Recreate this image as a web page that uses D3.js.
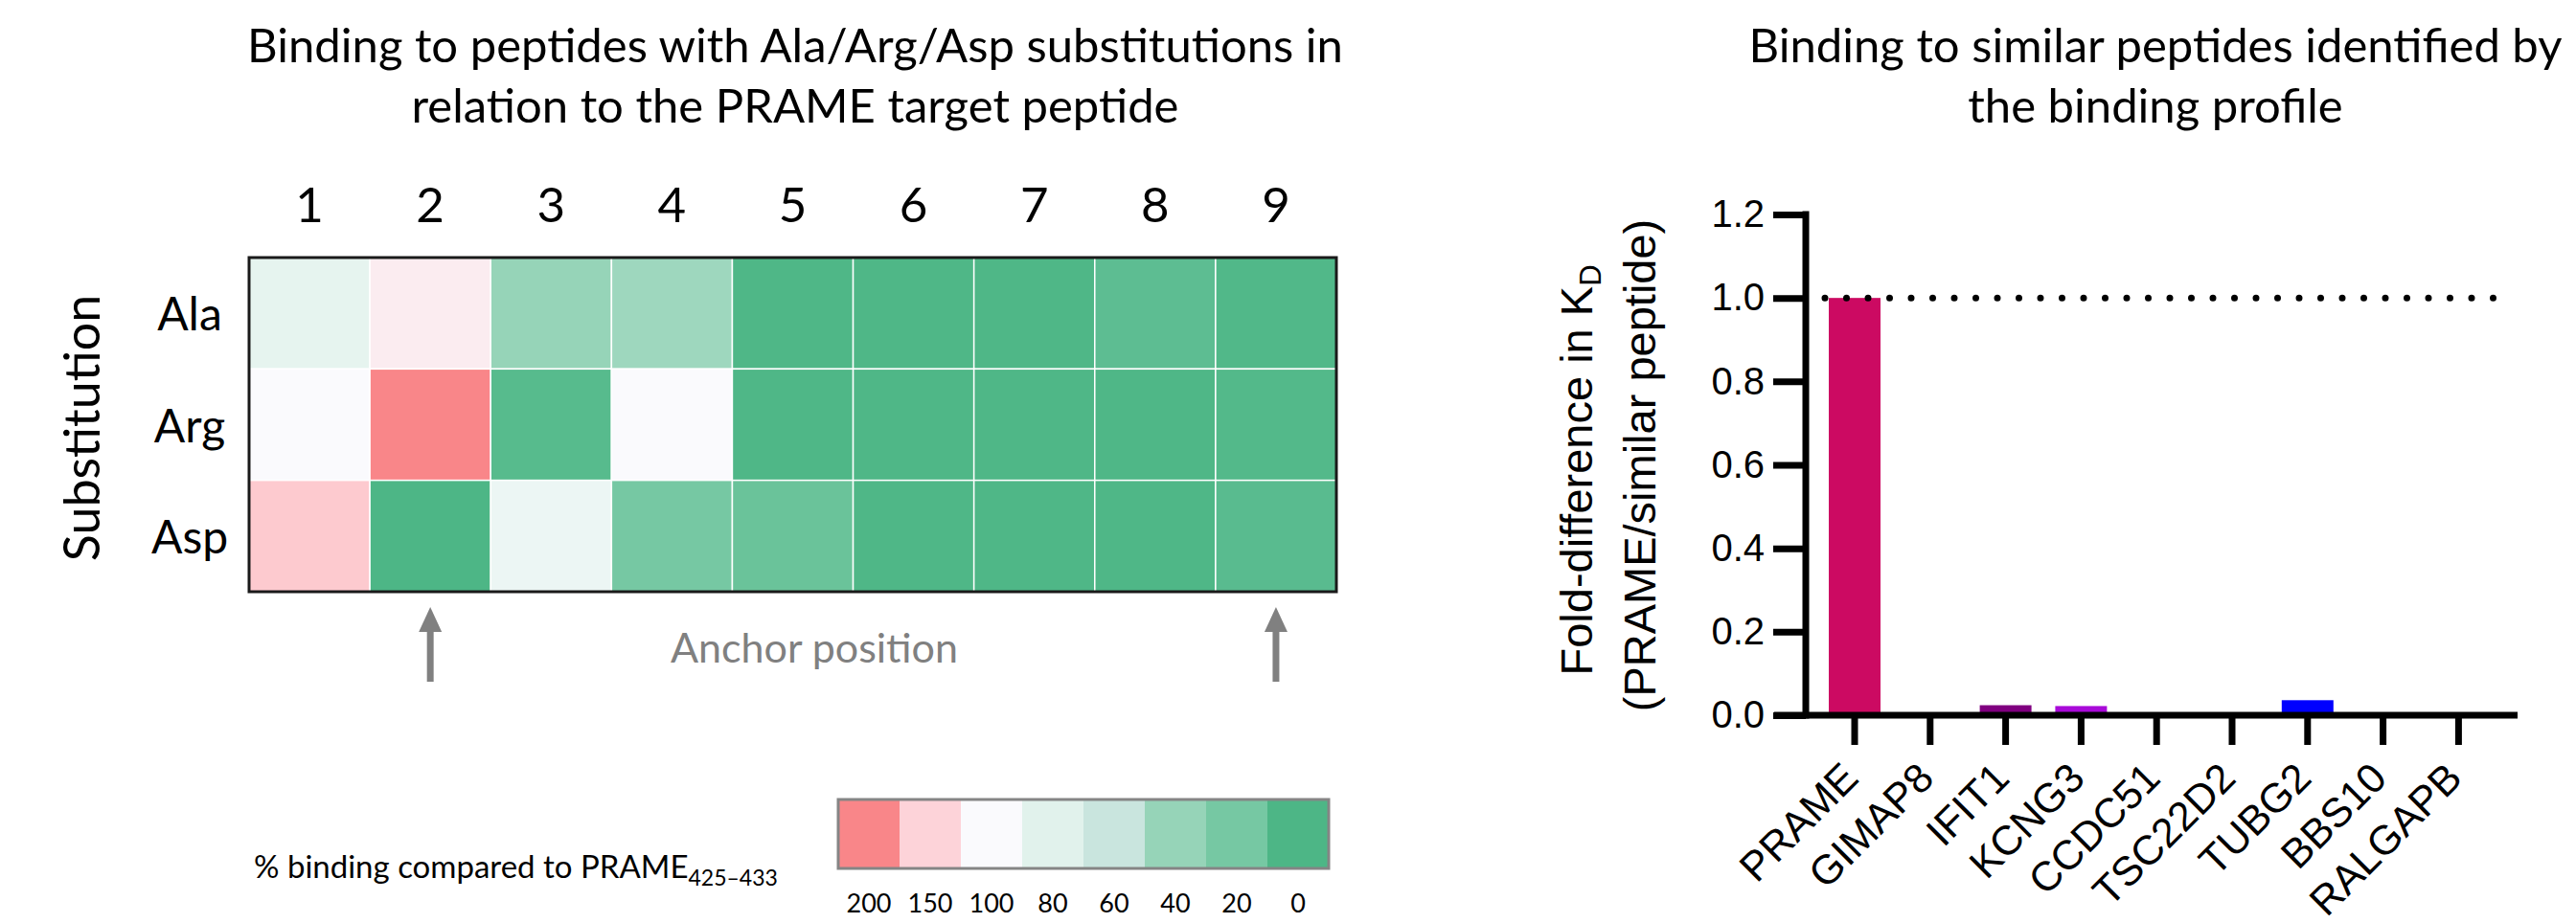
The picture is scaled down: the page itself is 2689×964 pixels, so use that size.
<!DOCTYPE html>
<html>
<head>
<meta charset="utf-8">
<script src="https://cdn.jsdelivr.net/npm/d3@7/dist/d3.min.js"></script>
<style>
  html, body { margin: 0; padding: 0; background: #fff; }
  svg { display: block; }
</style>
</head>
<body>
<svg id="fig" width="2689" height="964"></svg>
<script>
// ---- Heatmap data: % binding relative to the PRAME 425–433 peptide ----
const positions = [1, 2, 3, 4, 5, 6, 7, 8, 9];
const substitutions = ["Ala", "Arg", "Asp"];
const bindingAla = [84, 118, 40, 43, 1, 1, 1, 8, 2];
const bindingArg = [100, 200, 5, 100, 1, 1, 1, 1, 3];
const bindingAsp = [156, 0, 89, 20, 14, 1, 1, 1, 6];
const anchorPositions = [2, 9];

const legendStops = [200, 150, 100, 80, 60, 40, 20, 0];
const colorStops = [0, 20, 40, 60, 80, 100, 150, 200];
const colorValues = ["#4DB686", "#76C8A3", "#96D4B8", "#C9E5DE", "#E1F2EC", "#FAFAFD", "#FDD3D9", "#F98689"];

// ---- Bar chart data: fold-difference in KD ----
const peptides = ["PRAME", "GIMAP8", "IFIT1", "KCNG3", "CCDC51", "TSC22D2", "TUBG2", "BBS10", "RALGAPB"];
const foldDiff = [1.0, 0, 0.024, 0.022, 0, 0, 0.036, 0, 0];
const barColors = ["#CC0A62", "#7F7F7F", "#800080", "#A80AD8", "#7F7F7F", "#7F7F7F", "#0000FF", "#7F7F7F", "#7F7F7F"];
const yTicks = [0, 0.2, 0.4, 0.6, 0.8, 1.0, 1.2];
const referenceLevel = 1.0;

const svg = d3.select("#fig");
const calibriLike = "Lato, 'Noto Sans', sans-serif";
const arialLike = "'Liberation Sans', Arial, sans-serif";

// ================= Left panel: substitution heatmap =================
const left = svg.append("g");

const titleL = left.append("text")
  .attr("font-family", calibriLike).attr("font-size", 49)
  .attr("text-anchor", "middle").attr("fill", "#000");
titleL.append("tspan").attr("x", 830).attr("y", 65)
  .text("Binding to peptides with Ala/Arg/Asp substitutions in");
titleL.append("tspan").attr("x", 830).attr("y", 128)
  .text("relation to the PRAME target peptide");

const x = d3.scaleBand().domain(positions).range([260, 1395]);
const y = d3.scaleBand().domain(substitutions).range([269, 618]);
const color = d3.scaleLinear().domain(colorStops).range(colorValues).interpolate(d3.interpolateRgb);

const rows = [bindingAla, bindingArg, bindingAsp];
const cells = [];
substitutions.forEach((s, i) => positions.forEach((p, j) => cells.push({ s, p, v: rows[i][j] })));

left.append("g").selectAll("rect").data(cells).join("rect")
  .attr("x", d => x(d.p)).attr("y", d => y(d.s))
  .attr("width", x.bandwidth()).attr("height", y.bandwidth())
  .attr("fill", d => color(d.v))
  .attr("stroke", "#fff").attr("stroke-width", 1.5);

left.append("rect")
  .attr("x", x.range()[0]).attr("y", y.range()[0])
  .attr("width", x.range()[1] - x.range()[0]).attr("height", y.range()[1] - y.range()[0])
  .attr("fill", "none").attr("stroke", "#1a1a1a").attr("stroke-width", 3);

// column numbers
left.append("g").selectAll("text").data(positions).join("text")
  .attr("x", d => x(d) + x.bandwidth() / 2).attr("y", 232)
  .attr("text-anchor", "middle")
  .attr("font-family", calibriLike).attr("font-size", 51)
  .text(d => d);

// row labels
left.append("g").selectAll("text").data(substitutions).join("text")
  .attr("x", 198).attr("y", d => y(d) + y.bandwidth() / 2 + 18)
  .attr("text-anchor", "middle")
  .attr("font-family", calibriLike).attr("font-size", 48)
  .text(d => d);

left.append("text")
  .attr("transform", `translate(104, 447) rotate(-90)`)
  .attr("text-anchor", "middle")
  .attr("font-family", calibriLike).attr("font-size", 52)
  .text("Substitution");

// anchor arrows
const arrows = left.append("g").attr("fill", "#808080").attr("stroke", "#808080");
anchorPositions.forEach(p => {
  const cx = x(p) + x.bandwidth() / 2;
  arrows.append("line").attr("x1", cx).attr("x2", cx).attr("y1", 655).attr("y2", 712)
    .attr("stroke-width", 7);
  arrows.append("path").attr("stroke", "none")
    .attr("d", `M${cx},634 L${cx + 12},660 L${cx - 12},660 Z`);
});
left.append("text")
  .attr("x", 850).attr("y", 692).attr("text-anchor", "middle")
  .attr("font-family", calibriLike).attr("font-size", 43).attr("fill", "#808080")
  .text("Anchor position");

// legend
const legendX = d3.scaleBand().domain(legendStops).range([875, 1387]);
const legend = left.append("g");
legend.selectAll("rect").data(legendStops).join("rect")
  .attr("x", d => legendX(d)).attr("y", 835)
  .attr("width", legendX.bandwidth()).attr("height", 72)
  .attr("fill", d => color(d));
legend.append("rect")
  .attr("x", 875).attr("y", 835).attr("width", 512).attr("height", 72)
  .attr("fill", "none").attr("stroke", "#858585").attr("stroke-width", 3);
legend.selectAll("text.tick").data(legendStops).join("text")
  .attr("class", "tick")
  .attr("x", d => legendX(d) + legendX.bandwidth() / 2).attr("y", 953)
  .attr("text-anchor", "middle")
  .attr("font-family", calibriLike).attr("font-size", 27)
  .text(d => d);

const legendTitle = legend.append("text")
  .attr("x", 265).attr("y", 917)
  .attr("font-family", calibriLike).attr("font-size", 33);
legendTitle.append("tspan").text("% binding compared to PRAME");
legendTitle.append("tspan").attr("font-size", 23).attr("dy", 8).text("425–433");

// ================= Right panel: fold-difference bar chart =================
const right = svg.append("g");

const titleR = right.append("text")
  .attr("font-family", calibriLike).attr("font-size", 49)
  .attr("text-anchor", "middle").attr("fill", "#000");
titleR.append("tspan").attr("x", 2250).attr("y", 65)
  .text("Binding to similar peptides identified by");
titleR.append("tspan").attr("x", 2250).attr("y", 128)
  .text("the binding profile");

const xb = d3.scaleBand().domain(peptides).range([1896.6, 2605.8])
  .paddingInner(0.315).paddingOuter(0.1575);
const yb = d3.scaleLinear().domain([0, 1.2]).range([747, 224]);
const axisX = 1885;

const bars = peptides.map((p, i) => ({ p, v: foldDiff[i], c: barColors[i] }));
right.append("g").selectAll("rect").data(bars).join("rect")
  .attr("x", d => xb(d.p)).attr("width", xb.bandwidth())
  .attr("y", d => yb(d.v)).attr("height", d => yb(0) - yb(d.v))
  .attr("fill", d => d.c);

// dotted reference line
right.append("line")
  .attr("x1", 1905).attr("x2", 2612)
  .attr("y1", yb(referenceLevel)).attr("y2", yb(referenceLevel))
  .attr("stroke", "#000").attr("stroke-width", 7)
  .attr("stroke-linecap", "round").attr("stroke-dasharray", "0 22.5");

// y axis
const yAxis = right.append("g").attr("transform", `translate(${axisX},0)`)
  .call(d3.axisLeft(yb).tickValues(yTicks).tickFormat(d3.format(".1f"))
    .tickSize(34).tickSizeOuter(0).tickPadding(9));
yAxis.select(".domain").remove();
yAxis.selectAll(".tick line").attr("stroke", "#000").attr("stroke-width", 7);
yAxis.selectAll(".tick text").attr("font-family", arialLike).attr("font-size", 40).attr("fill", "#000");
right.append("line")
  .attr("x1", axisX).attr("x2", axisX).attr("y1", yb(1.2) - 3.5).attr("y2", yb(0) + 3.5)
  .attr("stroke", "#000").attr("stroke-width", 7);

// x axis
const xAxis = right.append("g").attr("transform", `translate(0,${yb(0)})`)
  .call(d3.axisBottom(xb).tickSize(31).tickSizeOuter(0).tickFormat(""));
xAxis.select(".domain").remove();
xAxis.selectAll(".tick line").attr("stroke", "#000").attr("stroke-width", 7);
right.append("line")
  .attr("x1", 1852).attr("x2", 2628).attr("y1", yb(0)).attr("y2", yb(0))
  .attr("stroke", "#000").attr("stroke-width", 7);

right.append("g").selectAll("text").data(peptides).join("text")
  .attr("transform", d => `translate(${xb(d) + xb.bandwidth() / 2 + 6},815) rotate(-45)`)
  .attr("text-anchor", "end")
  .attr("font-family", arialLike).attr("font-size", 43)
  .text(d => d);

// y axis title
const yTitle1 = right.append("text")
  .attr("transform", "translate(1662,491) rotate(-90)")
  .attr("text-anchor", "middle")
  .attr("font-family", arialLike).attr("font-size", 47);
yTitle1.append("tspan").text("Fold-difference in K");
yTitle1.append("tspan").attr("font-size", 31).attr("dy", 9).text("D");
right.append("text")
  .attr("transform", "translate(1728,486) rotate(-90)")
  .attr("text-anchor", "middle")
  .attr("font-family", arialLike).attr("font-size", 47)
  .text("(PRAME/similar peptide)");
</script>
</body>
</html>
